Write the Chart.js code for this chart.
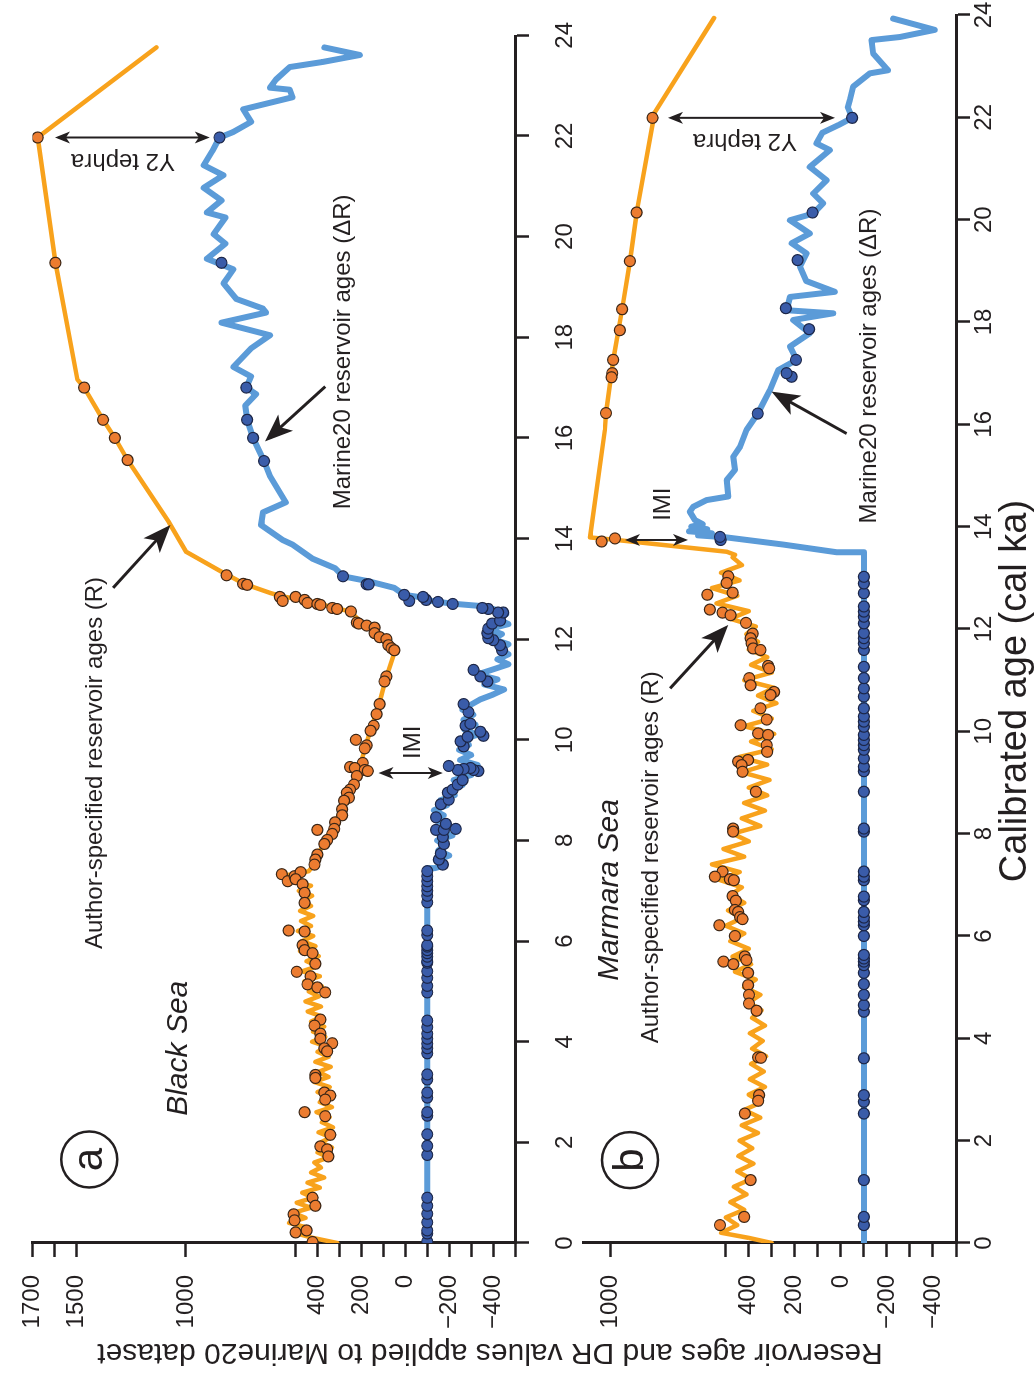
<!DOCTYPE html>
<html><head><meta charset="utf-8">
<script src="https://cdn.jsdelivr.net/npm/chart.js@4.4.1/dist/chart.umd.min.js"></script>
<style>
html,body{margin:0;padding:0;background:#fff;overflow:hidden;width:1034px;height:1381px;}
#fig{position:absolute;left:0;top:0;width:1381px;height:1034px;transform-origin:0 0;transform:translate(0px,1381px) rotate(-90deg);}
#fig canvas{position:absolute;left:0;top:0;}
</style></head><body>
<div id="fig"><canvas id="cA" width="1381" height="1034"></canvas><canvas id="cB" width="1381" height="1034"></canvas></div>
<script>
// ---------------- DATA ----------------
const calAges = [0,2,4,6,8,10,12,14,16,18,20,22,24];
const yTicksA = [1700,1600,1500,1000,500,400,300,200,100,0,-100,-200,-300,-400,-500];
const yLabelsA = [1700,1500,1000,400,200,0,-200,-400];
const yTicksB = [1000,500,400,300,200,100,0,-100,-200,-300,-400,-500];
const yLabelsB = [1000,400,200,0,-200,-400];

// Panel a (Black Sea): author-specified reservoir ages R, [cal ka, years]
const aRLine = [[0.00,310],[0.10,420],[0.20,505],[0.30,440],[0.40,530],[0.50,455],[0.60,510],[0.70,430],[0.80,495],[0.90,420],
[1.00,470],[1.10,390],[1.20,445],[1.30,370],[1.40,430],[1.50,385],[1.60,415],[1.70,350],[1.80,400],[1.90,335],
[2.00,385],[2.10,340],[2.20,395],[2.30,330],[2.40,380],[2.50,345],[2.60,405],[2.70,335],[2.80,390],[2.90,340],
[3.00,400],[3.10,345],[3.20,415],[3.30,350],[3.40,395],[3.50,340],[3.60,410],[3.70,350],[3.80,400],[3.90,355],
[4.00,425],[4.10,365],[4.20,420],[4.30,370],[4.40,430],[4.50,380],[4.60,445],[4.70,385],[4.80,455],[4.90,395],
[5.00,440],[5.10,380],[5.20,460],[5.30,390],[5.40,470],[5.50,400],[5.60,450],[5.70,395],[5.80,480],[5.90,410],
[6.00,470],[6.10,420],[6.20,490],[6.30,430],[6.40,475],[6.50,420],[6.60,480],[6.70,430],[6.80,470],[6.90,425],
[7.00,485],[7.10,430],[7.20,540],[7.30,560],[7.35,480],[7.39,440],[7.50,420],[7.70,400],[8.00,365],[8.30,330],
[8.60,290],[8.90,265],[9.20,235],[9.50,205],[9.90,180],[10.30,150],[10.70,120],[11.20,90],[11.73,50],[11.90,75],
[12.05,110],[12.20,140],[12.35,205],[12.55,250],[12.62,320],[12.75,430],[12.85,560],[12.92,617],[13.10,735],[13.35,842],
[13.74,1000],[14.32,1077],[15.56,1266],[16.00,1324],[16.36,1378],[17.00,1464],[17.16,1495],[19.48,1595],[21.97,1676],[23.76,1135]];
const aRPts = [[21.97,1676],[19.48,1595],[17.00,1464],[16.36,1378],[16.00,1324],[15.56,1266],
[13.27,815],[13.10,739],[13.08,721],
[12.84,572],[12.76,559],[12.84,500],[12.78,459],[12.72,446],[12.70,401],[12.68,387],[12.62,333],[12.60,311],[12.55,248],
[12.33,221],[12.31,212],[12.27,176],[12.23,140],[12.12,140],[12.04,117],[12.00,86],[11.88,77],[11.82,63],[11.78,50],
[11.26,86],[11.16,95],[10.71,117],[10.51,131],[10.28,144],[10.18,158],[10.00,225],[9.89,176],[9.83,185],
[9.54,194],[9.46,252],[9.44,230],[9.40,185],[9.38,171],[9.28,221],[9.11,234],[9.01,252],[8.95,266],[8.85,257],[8.79,279],[8.62,288],[8.50,288],
[8.36,320],[8.23,324],[8.21,401],[8.13,333],[8.01,356],[7.93,369],[7.72,401],[7.62,410],[7.52,414],
[7.33,563],[7.19,536],[7.29,505],[7.37,477],[7.23,500],[7.13,468],[6.96,459],[6.76,459],
[6.21,532],[6.19,459],[5.92,468],[5.82,459],[5.76,423],[5.55,410],[5.39,495],[5.30,432],[5.14,446],[5.08,401],[4.98,365],
[4.44,387],[4.32,414],[4.16,387],[4.06,387],[3.97,333],[3.87,369],[3.81,356],
[3.34,410],[3.28,410],[2.99,369],[2.93,342],[2.85,365],[2.60,459],[2.52,365],[2.15,342],[1.92,387],[1.86,356],[1.72,351],
[0.90,423],[0.74,410],[0.57,509],[0.45,505],[0.25,450],[0.21,500],[0.02,423]];

// Panel a: Marine20 reservoir ages ΔR
const aDLine = [[0,-100],[7.45,-100],[7.45,-135],[7.50,-175],[7.60,-140],[7.70,-200],[7.80,-150],[7.90,-185],[8.00,-145],
[8.10,-215],[8.20,-150],[8.30,-200],[8.40,-140],[8.50,-175],[8.60,-130],[8.70,-190],[8.80,-160],[8.90,-225],[9.00,-200],
[9.10,-260],[9.20,-220],[9.30,-300],[9.40,-260],[9.50,-330],[9.60,-250],[9.70,-300],[9.80,-245],[9.90,-290],[10.00,-250],
[10.10,-330],[10.20,-270],[10.30,-320],[10.40,-265],[10.50,-310],[10.60,-260],[10.70,-300],[10.80,-340],[10.90,-400],[11.00,-450],
[11.10,-360],[11.20,-420],[11.30,-330],[11.40,-400],[11.50,-470],[11.60,-420],[11.70,-470],[11.80,-430],[11.90,-470],[12.00,-400],
[12.10,-440],[12.20,-380],[12.30,-470],[12.40,-420],[12.50,-460],[12.60,-400],[12.66,-342],[12.70,-230],[12.74,-150],[12.78,-90],
[12.84,-60],[12.88,5],[13.02,50],[13.15,167],[13.25,284],[13.41,320],[13.60,423],[13.88,514],[13.97,559],[14.27,658],
[14.52,649],[14.72,545],[15.24,617],[15.54,644],[16.00,694],[16.36,721],[16.64,730],[16.87,680],[17.00,725],[17.22,703],
[17.41,784],[17.78,703],[18.04,617],[18.29,838],[18.49,635],[18.57,649],[18.76,770],[19.07,829],[19.35,784],[19.56,905],
[19.86,820],[20.05,874],[20.38,820],[20.48,905],[20.72,838],[20.97,919],[21.22,829],[21.42,919],[21.70,880],[21.97,847],
[22.08,784],[22.28,703],[22.53,739],[22.77,514],[22.92,527],[22.96,617],[23.12,590],[23.37,527],[23.47,378],[23.61,207],[23.76,369]];
const aDPts = [[0.03,-100],[0.19,-100],[0.25,-100],[0.41,-100],[0.58,-100],[0.74,-100],[0.90,-100],[1.75,-100],[1.93,-100],[2.16,-100],
[2.53,-100],[2.60,-100],[2.89,-100],[2.99,-100],[3.25,-100],[3.35,-100],[3.77,-100],[3.87,-100],[3.96,-100],[4.06,-100],
[4.16,-100],[4.29,-100],[4.42,-100],[4.98,-100],[5.11,-100],[5.27,-100],[5.40,-100],[5.57,-100],[5.60,-100],[5.69,-100],
[5.76,-100],[5.82,-100],[5.89,-100],[5.92,-100],[6.12,-100],[6.21,-100],[6.77,-100],[6.90,-100],[7.00,-100],[7.09,-100],
[7.19,-100],[7.29,-100],[7.39,-100],
[7.52,-171],[7.62,-153],[7.74,-162],[7.93,-176],[8.07,-171],[8.21,-140],[8.21,-176],[8.23,-230],[8.33,-185],[8.46,-140],
[8.72,-162],[8.81,-198],[8.95,-194],[9.01,-216],[9.11,-239],[9.20,-261],[9.38,-333],[9.40,-311],[9.44,-297],[9.42,-266],
[9.40,-239],[9.48,-198],[9.87,-266],[9.97,-252],[10.06,-284],[10.08,-356],[10.16,-342],[10.28,-275],[10.32,-297],[10.55,-288],
[10.71,-266],[11.16,-374],[11.26,-342],[11.39,-311],[11.78,-441],[11.88,-432],[11.98,-401],[12.02,-378],[12.12,-374],[12.21,-378],
[12.31,-396],[12.37,-432],[12.53,-446],[12.53,-423],[12.60,-378],[12.62,-351],[12.70,-216],[12.74,-149],[12.78,-95],[12.84,-81],
[12.76,-18],[12.88,5],[13.09,176],[13.09,167],[13.25,284],[15.54,644],[16.00,694],[16.36,721],[17.00,725],[19.48,838],[21.97,847]];

// Panel b (Marmara Sea): author-specified reservoir ages R
const bRLine = [[0.00,300],[0.10,400],[0.20,520],[0.35,450],[0.50,500],[0.65,420],[0.80,480],[0.95,410],[1.10,465],[1.25,390],
[1.40,450],[1.55,380],[1.70,445],[1.85,385],[2.00,440],[2.15,360],[2.30,430],[2.45,350],[2.60,420],[2.75,345],
[2.90,400],[3.05,330],[3.20,395],[3.35,335],[3.50,390],[3.65,325],[3.80,385],[3.95,340],[4.10,395],[4.25,330],
[4.40,385],[4.55,345],[4.70,400],[4.85,350],[5.00,420],[5.15,370],[5.30,460],[5.45,390],[5.60,470],[5.75,400],
[5.90,480],[6.05,420],[6.20,500],[6.35,430],[6.50,490],[6.65,420],[6.80,480],[6.95,430],[7.10,530],[7.25,440],
[7.40,560],[7.55,420],[7.70,510],[7.85,400],[8.00,470],[8.15,350],[8.30,430],[8.45,330],[8.60,420],[8.75,320],
[8.90,400],[9.05,310],[9.20,430],[9.35,320],[9.50,440],[9.65,300],[9.80,390],[9.95,290],[10.10,420],[10.25,300],
[10.40,380],[10.55,280],[10.70,360],[10.85,290],[11.00,420],[11.15,300],[11.30,390],[11.45,320],[11.60,400],[11.75,360],
[11.90,410],[12.05,370],[12.20,480],[12.35,400],[12.50,540],[12.65,450],[12.80,560],[12.95,440],[13.10,520],[13.25,430],
[13.40,470],[13.45,460],[13.51,496],[13.74,974],[13.79,1090],[15.89,1025],[16.22,1020],[17.26,989],[18.25,950],[19.19,916],
[20.14,887],[22.10,808],[23.94,551]];
const bRPts = [[21.99,818],[20.14,887],[19.19,916],[18.25,950],[17.84,960],[17.26,989],[17.00,993],[16.92,996],[16.22,1020],
[13.77,981],[13.71,1039],
[13.03,489],[12.90,496],[12.71,470],[12.67,580],[12.38,569],[12.32,514],[12.27,479],[12.12,412],[11.91,383],[11.82,392],
[11.72,388],[11.62,381],[11.59,349],[11.28,316],[11.23,311],[11.04,398],[10.90,392],[10.77,290],[10.71,305],[10.45,349],
[10.23,322],[10.12,435],[9.96,359],[9.93,316],[9.73,322],[9.60,320],[9.44,403],[9.41,446],[9.34,431],[9.21,427],
[8.82,369],[8.10,468],[8.04,468],[7.26,514],[7.16,547],[7.11,482],[7.09,465],[6.78,470],[6.69,456],[6.51,460],
[6.47,446],[6.37,438],[6.33,427],[6.21,528],[6.00,460],[5.60,417],[5.53,410],[5.50,510],[5.45,467],[5.28,403],
[5.04,403],[4.85,399],[4.68,399],[4.54,366],[3.63,359],[3.62,347],[2.89,355],[2.78,359],[2.53,417],[1.23,392],
[0.51,420],[0.35,525]];

// Panel b: Marine20 reservoir ages ΔR
const bDLine = [[0,-100],[13.49,-100],[13.50,18],[13.65,250],[13.79,496],[13.83,620],[13.87,560],[13.91,660],[13.95,580],[14.00,650],
[14.05,600],[14.13,634],[14.29,656],[14.39,641],[14.52,583],[14.59,489],[14.91,496],[15.11,460],[15.37,467],[15.56,438],
[15.89,410],[16.21,361],[16.67,308],[17.06,272],[17.26,192],[17.52,221],[17.78,135],[18.04,207],[18.17,33],[18.23,236],
[18.49,221],[18.59,26],[18.80,150],[19.08,178],[19.34,149],[19.54,214],[19.73,135],[19.99,221],[20.12,120],[20.32,77],
[20.51,120],[20.77,62],[21.03,135],[21.36,48],[21.49,106],[21.70,80],[21.85,10],[21.99,-49],[22.20,-30],[22.34,-39],
[22.60,-53],[22.86,-126],[22.92,-205],[23.25,-140],[23.51,-133],[23.57,-256],[23.71,-408],[23.93,-227]];
const bDPts = [[0.35,-100],[0.51,-100],[1.23,-100],[2.53,-100],[2.76,-100],[2.89,-100],[3.61,-100],[4.52,-100],[4.65,-100],[4.85,-100],
[5.06,-100],[5.28,-100],[5.43,-100],[5.50,-100],[5.56,-100],[5.63,-100],[6.00,-100],[6.21,-100],[6.28,-100],[6.36,-100],
[6.47,-100],[6.70,-100],[6.77,-100],[7.09,-100],[7.16,-100],[7.26,-100],[8.04,-100],[8.10,-100],[8.82,-100],[9.22,-100],
[9.31,-100],[9.47,-100],[9.64,-100],[9.73,-100],[9.83,-100],[9.93,-100],[10.09,-100],[10.19,-100],[10.29,-100],[10.45,-100],
[10.68,-100],[10.84,-100],[11.04,-100],[11.26,-100],[11.59,-100],[11.72,-100],[11.82,-100],[11.92,-100],[12.11,-100],[12.24,-100],
[12.34,-100],[12.44,-100],[12.70,-100],[12.89,-100],[13.02,-100],
[13.74,522],[13.80,525],[16.21,361],[16.93,214],[17.00,236],[17.26,195],[17.86,138],[18.27,239],[19.21,188],[20.14,123],[21.99,-49]];

// ---------------- STYLE / LAYOUT ----------------
const INK = '#231f20';
const OR_LN = '#F8A21C', OR_PT = '#EC7C30', OR_ED = '#3b2616';
const BL_LN = '#5B9BD8', BL_PT = '#3A5CA9', BL_ED = '#1c2647';
const FONT = "'Liberation Sans', Arial, Helvetica, sans-serif";
Chart.defaults.font.family = FONT;
Chart.defaults.font.size = 24;
Chart.defaults.color = INK;

const annA = [
  {type:'circle', ka:1.66, v:1441, text:'a'},
  {type:'text', ka:3.87, v:1031, text:'Black Sea', italic:true, size:30},
  {type:'text', ka:9.54, v:1414, text:'Author-specified reservoir ages (R)', size:24},
  {type:'arrow', from:[13.02,1332], to:[14.27,1071]},
  {type:'text', ka:17.71, v:284, text:'Marine20 reservoir ages (\u0394R)', size:24},
  {type:'arrow', from:[17.02,365], to:[15.93,640]},
  {type:'double', ka:9.34, v1:122, v2:-171},
  {type:'text', ka:9.95, v:-38, text:'IMI', size:24},
  {type:'double', ka:21.97, v1:1597, v2:892},
  {type:'text', ka:21.52, v:1287, text:'Y2 tephra', rot:-90, size:24}
];
const annB = [
  {type:'circle', ka:1.62, v:916, text:'b'},
  {type:'text', ka:6.90, v:1003, text:'Marmara Sea', italic:true, size:30},
  {type:'text', ka:7.54, v:825, text:'Author-specified reservoir ages (R)', size:24},
  {type:'arrow', from:[10.84,742], to:[12.08,489]},
  {type:'text', ka:17.14, v:-122, text:'Marine20 reservoir ages (\u0394R)', size:24},
  {type:'arrow', from:[15.82,-25], to:[16.64,301]},
  {type:'double', ka:13.74, v1:938, v2:664},
  {type:'text', ka:14.44, v:773, text:'IMI', size:24},
  {type:'double', ka:21.99, v1:751, v2:26},
  {type:'text', ka:21.54, v:417, text:'Y2 tephra', rot:-90, size:24}
];

const xy = arr => arr.map(([x, y]) => ({x, y}));
const fmt = v => v < 0 ? '\u2212' + Math.abs(v) : String(v);

function head(ctx, x, y, ang, len, hw, back) {
  const c = Math.cos(ang), s = Math.sin(ang);
  ctx.beginPath();
  ctx.moveTo(x, y);
  ctx.lineTo(x - len*c + hw*s, y - len*s - hw*c);
  ctx.lineTo(x - (len-back)*c, y - (len-back)*s);
  ctx.lineTo(x - len*c - hw*s, y - len*s + hw*c);
  ctx.closePath();
  ctx.fill();
}

function annPlugin(anns, extra) {
  return {
    id: 'ann',
    afterDatasetsDraw(chart) {
      const ctx = chart.ctx, sx = chart.scales.x, sy = chart.scales.y;
      const px = k => sx.getPixelForValue(k), py = v => sy.getPixelForValue(v);
      ctx.save();
      ctx.fillStyle = INK; ctx.strokeStyle = INK;
      for (const a of anns) {
        if (a.type === 'text') {
          ctx.save();
          ctx.font = (a.italic ? 'italic ' : '') + a.size + 'px ' + FONT;
          ctx.textAlign = 'center'; ctx.textBaseline = 'middle';
          ctx.translate(px(a.ka), py(a.v));
          if (a.rot) ctx.rotate(a.rot * Math.PI / 180);
          ctx.fillText(a.text, 0, 0);
          ctx.restore();
        } else if (a.type === 'circle') {
          const x = px(a.ka), y = py(a.v);
          ctx.lineWidth = 2.5;
          ctx.beginPath(); ctx.arc(x, y, 28, 0, Math.PI*2); ctx.stroke();
          ctx.font = '42px ' + FONT; ctx.textAlign = 'center'; ctx.textBaseline = 'middle';
          ctx.fillText(a.text, x, y + 1);
        } else if (a.type === 'arrow') {
          const x1 = px(a.from[0]), y1 = py(a.from[1]), x2 = px(a.to[0]), y2 = py(a.to[1]);
          const ang = Math.atan2(y2 - y1, x2 - x1);
          ctx.lineWidth = 3;
          ctx.beginPath(); ctx.moveTo(x1, y1);
          ctx.lineTo(x2 - 18*Math.cos(ang), y2 - 18*Math.sin(ang)); ctx.stroke();
          head(ctx, x2, y2, ang, 28, 11, 7);
        } else if (a.type === 'double') {
          const x = px(a.ka), y1 = py(a.v1), y2 = py(a.v2);
          ctx.lineWidth = 2;
          ctx.beginPath(); ctx.moveTo(x, y1 + 8); ctx.lineTo(x, y2 - 8); ctx.stroke();
          head(ctx, x, y1, -Math.PI/2, 15, 6, 4);
          head(ctx, x, y2, Math.PI/2, 15, 6, 4);
        }
      }
      ctx.restore();
    },
    afterDraw(chart) { if (extra) extra(chart); }
  };
}

// axis titles (y title spans both panels; x title sits under panel b)
function drawYTitle(chart) {
  const ctx = chart.ctx;
  ctx.save();
  ctx.font = '30px ' + FONT; ctx.fillStyle = INK;
  ctx.textAlign = 'center'; ctx.textBaseline = 'middle';
  ctx.translate(29, 490); ctx.rotate(-Math.PI/2);
  ctx.fillText('Reservoir ages and DR values applied to Marine20 dataset', 0, 0);
  ctx.restore();
}
function drawXTitle(chart) {
  const ctx = chart.ctx;
  ctx.save();
  ctx.font = '38px ' + FONT; ctx.fillStyle = INK;
  ctx.textAlign = 'center'; ctx.textBaseline = 'alphabetic';
  ctx.fillText('Calibrated age (cal ka)', 690, 1026);
  ctx.restore();
}

function axisCommon() {
  return {
    grid: {display:true, drawOnChartArea:false, drawTicks:true, tickLength:14, tickWidth:2.5, tickColor:INK},
    border: {display:true, color:INK, width:3}
  };
}

function makeOptions(p) {
  return {
    responsive: false, animation: false, devicePixelRatio: 1,
    layout: {padding: p.padding},
    plugins: {legend: {display:false}, tooltip: {enabled:false}, title: {display:false}},
    elements: {line: {tension:0, borderJoinStyle:'round', borderCapStyle:'round'}, point: {radius:0}},
    scales: {
      x: Object.assign(axisCommon(), {
        type:'linear', min:0, max:24,
        afterBuildTicks: s => { s.ticks = calAges.map(v => ({value:v})); },
        afterFit: s => { s.height = p.xHeight; },
        ticks: {autoSkip:false, maxRotation:0, padding:p.xTickPad, font:{size:24}, color:INK}
      }),
      y: Object.assign(axisCommon(), {
        type:'linear', min:p.yMin, max:p.yMax,
        afterBuildTicks: s => { s.ticks = p.yTicks.map(v => ({value:v})); },
        afterFit: s => { s.width = 100; },
        ticks: {autoSkip:false, padding:18, font:{size:24}, color:INK,
                callback: v => p.yLabels.includes(v) ? fmt(v) : ''}
      })
    }
  };
}

function datasets(rLine, rPts, dLine, dPts) {
  const pt = (data, fill, edge, label) => ({label, data: xy(data), showLine:false, pointRadius:5.5,
    pointBackgroundColor:fill, pointBorderColor:edge, pointBorderWidth:1.2, order:0});
  return [
    pt(rPts, OR_PT, OR_ED, 'R samples'),
    pt(dPts, BL_PT, BL_ED, '\u0394R samples'),
    {label:'Author-specified reservoir ages (R)', data: xy(rLine), borderColor:OR_LN, borderWidth:4.5, pointRadius:0, order:2},
    {label:'Marine20 reservoir ages (\u0394R)', data: xy(dLine), borderColor:BL_LN, borderWidth:6, pointRadius:0, order:1}
  ];
}

new Chart(document.getElementById('cA'), {
  type: 'line',
  data: {datasets: datasets(aRLine, aRPts, aDLine, aDPts)},
  options: makeOptions({padding:{left:38, right:15, top:25, bottom:449}, xHeight:70, xTickPad:22,
    yMin:-500, yMax:1700, yTicks:yTicksA, yLabels:yLabelsA}),
  plugins: [annPlugin(annA, drawYTitle)]
});
new Chart(document.getElementById('cB'), {
  type: 'line',
  data: {datasets: datasets(bRLine, bRPts, bDLine, bDPts)},
  options: makeOptions({padding:{left:38, right:15, top:583, bottom:38}, xHeight:40, xTickPad:0,
    yMin:-500, yMax:1120, yTicks:yTicksB, yLabels:yLabelsB}),
  plugins: [annPlugin(annB, drawXTitle)]
});
</script></body></html>
